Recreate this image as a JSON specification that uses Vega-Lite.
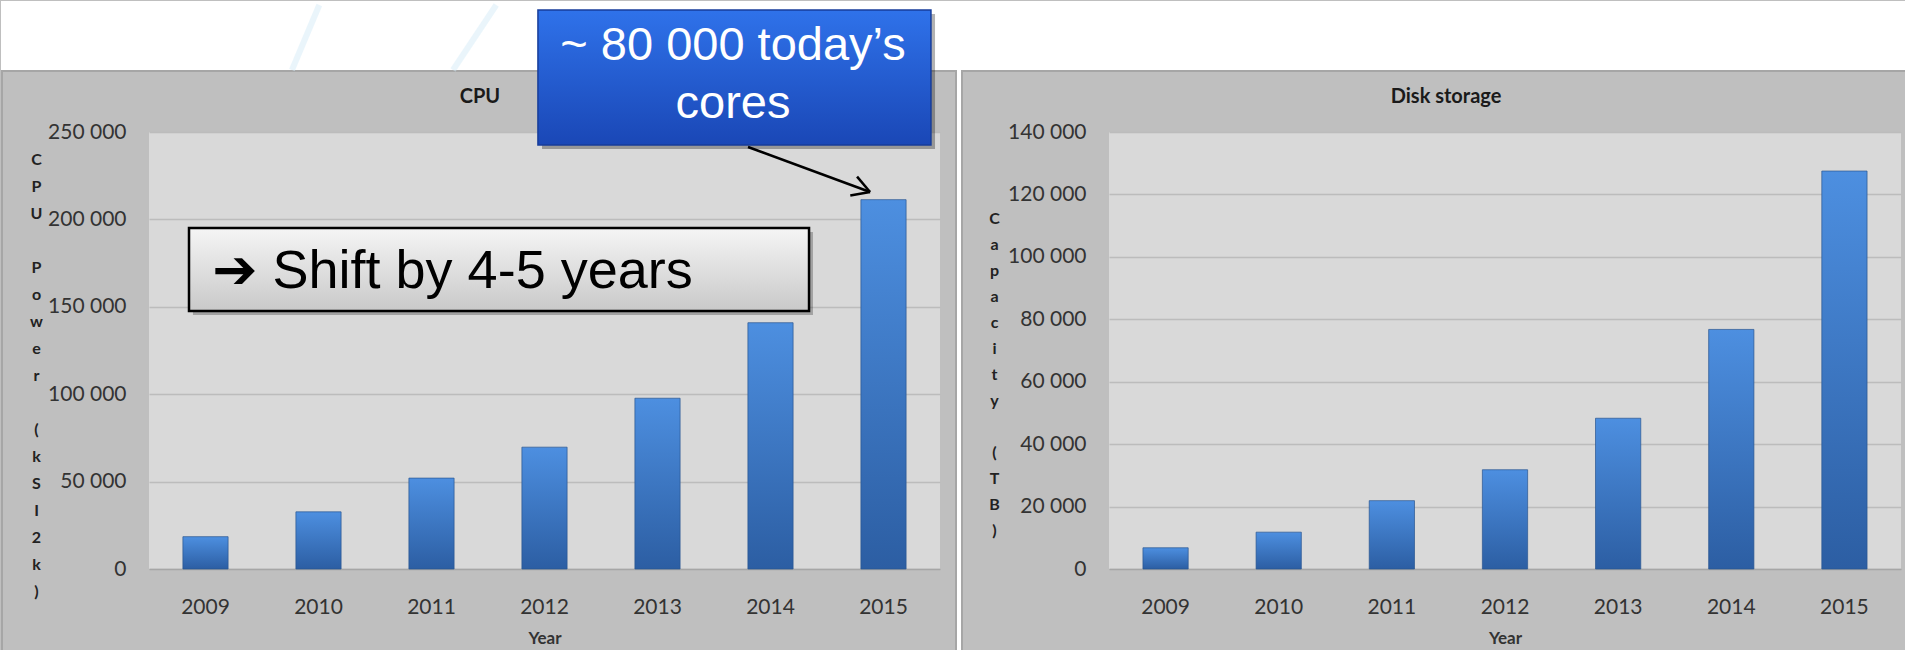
{
  "$schema": "https://vega.github.io/schema/vega-lite/v6.json",
  "background": "#bfbfbf",
  "padding": 0,
  "spacing": 0,
  "config": {
    "view": {"fill": "#d9d9d9", "stroke": null},
    "font": "Lato",
    "axis": {"labelFont": "Lato", "titleFont": "Lato"}
  },
  "datasets": {
    "cpu": [
      {"Year": "2009", "Value": 18500},
      {"Year": "2010", "Value": 32700},
      {"Year": "2011", "Value": 52000},
      {"Year": "2012", "Value": 69700},
      {"Year": "2013", "Value": 97700},
      {"Year": "2014", "Value": 140900},
      {"Year": "2015", "Value": 211300}
    ],
    "disk": [
      {"Year": "2009", "Value": 6800},
      {"Year": "2010", "Value": 11800},
      {"Year": "2011", "Value": 21900},
      {"Year": "2012", "Value": 31800},
      {"Year": "2013", "Value": 48300},
      {"Year": "2014", "Value": 76750},
      {"Year": "2015", "Value": 127500}
    ]
  },
  "hconcat": [
    {
      "width": 791,
      "height": 437,
      "resolve": {"scale": {"x": "independent"}},
      "layer": [
        {
          "data": {"name": "cpu"},
          "mark": {
            "type": "bar",
            "fill": {"gradient": "linear", "x1": 0, "y1": 0, "x2": 0, "y2": 1, "stops": [{"offset": 0, "color": "#4d8fe0"}, {"offset": 1, "color": "#2c5ea3"}]},
            "stroke": "#2a5590", "strokeWidth": 1, "strokeOpacity": 0.7
          },
          "encoding": {
            "x": {
              "field": "Year", "type": "ordinal",
              "scale": {"paddingInner": 0.6, "paddingOuter": 0.3},
              "axis": {
                "title": "Year", "labelAngle": 0, "labelFontSize": 21, "labelColor": "#333333",
                "ticks": false, "tickSize": 0, "labelPadding": 27,
                "domain": true, "domainColor": "#a6a6a6", "domainWidth": 1.5, "grid": false,
                "titleFontSize": 17, "titleFontWeight": "bold", "titleColor": "#333333", "titlePadding": 13
              }
            },
            "y": {
              "field": "Value", "type": "quantitative",
              "scale": {"domain": [0, 250000], "nice": false},
              "axis": {
                "values": [0, 50000, 100000, 150000, 200000, 250000],
                "labelExpr": "replace(format(datum.value, ','), ',', ' ')",
                "labelFontSize": 21, "labelColor": "#333333", "labelPadding": 23,
                "ticks": false, "tickSize": 0, "domain": false,
                "grid": true, "gridColor": "#bcbcbc", "gridWidth": 1.5,
                "title": ["C", "P", "U", "\u2800", "P", "o", "w", "e", "r", "\u2800", "(", "k", "S", "I", "2", "k", ")"],
                "titleAngle": 0, "titleAlign": "center", "titleBaseline": "middle",
                "titleLineHeight": 27, "titleFontSize": 16, "titleFontWeight": "bold", "titleColor": "#222222",
                "titleX": -113, "titleY": 27
              }
            }
          }
        },
        {
          "data": {"values": [{}]},
          "mark": {"type": "rect", "fill": "#ffffff"},
          "encoding": {
            "x": {"datum": -1.3097, "type": "quantitative", "scale": {"domain": [0, 7], "nice": false, "zero": false}, "axis": null},
            "x2": {"datum": 7.1858},
            "y": {"datum": 285469, "type": "quantitative", "scale": {"domain": [0, 250000], "nice": false}},
            "y2": {"datum": 324943}
          }
        },
        {
          "data": {"values": [{}]},
          "mark": {"type": "rect", "fill": "#ffffff"},
          "encoding": {
            "x": {"datum": 7.1504, "type": "quantitative", "scale": {"domain": [0, 7], "nice": false, "zero": false}, "axis": null},
            "x2": {"datum": 7.1858},
            "y": {"datum": 324943, "type": "quantitative", "scale": {"domain": [0, 250000], "nice": false}},
            "y2": {"datum": -52632}
          }
        },
        {
          "data": {"values": [{}]},
          "mark": {"type": "rect", "filled": false, "stroke": "#a6a6a6", "strokeWidth": 2},
          "encoding": {
            "x": {"datum": -1.3009, "type": "quantitative", "scale": {"domain": [0, 7], "nice": false, "zero": false}, "axis": null},
            "x2": {"datum": 7.1416},
            "y": {"datum": 284897, "type": "quantitative", "scale": {"domain": [0, 250000], "nice": false}},
            "y2": {"datum": -52632}
          }
        },
        {
          "data": {"values": [{}]},
          "mark": {"type": "rule", "stroke": "#d6ecf7", "strokeWidth": 6, "opacity": 0.5},
          "encoding": {
            "x": {"datum": 1.265, "type": "quantitative", "scale": {"domain": [0, 7], "nice": false, "zero": false}, "axis": null},
            "x2": {"datum": 1.507},
            "y": {"datum": 285469, "type": "quantitative", "scale": {"domain": [0, 250000], "nice": false}},
            "y2": {"datum": 322654}
          }
        },
        {
          "data": {"values": [{}]},
          "mark": {"type": "rule", "stroke": "#d6ecf7", "strokeWidth": 6, "opacity": 0.5},
          "encoding": {
            "x": {"datum": 2.690, "type": "quantitative", "scale": {"domain": [0, 7], "nice": false, "zero": false}, "axis": null},
            "x2": {"datum": 3.073},
            "y": {"datum": 285469, "type": "quantitative", "scale": {"domain": [0, 250000], "nice": false}},
            "y2": {"datum": 322654}
          }
        },
        {
          "data": {"values": [{}]},
          "mark": {"type": "text", "text": "CPU", "font": "Lato", "fontSize": 20, "fontWeight": "bold", "color": "#1a1a1a", "align": "center", "baseline": "middle"},
          "encoding": {
            "x": {"datum": 2.929, "type": "quantitative", "scale": {"domain": [0, 7], "nice": false, "zero": false}, "axis": null},
            "y": {"datum": 270023, "type": "quantitative", "scale": {"domain": [0, 250000], "nice": false}}
          }
        },
        {
          "data": {"values": [{}]},
          "mark": {"type": "rect", "fill": "#000000", "opacity": 0.25},
          "encoding": {
            "x": {"datum": 0.389, "type": "quantitative", "scale": {"domain": [0, 7], "nice": false, "zero": false}, "axis": null},
            "x2": {"datum": 5.876},
            "y": {"datum": 192792, "type": "quantitative", "scale": {"domain": [0, 250000], "nice": false}},
            "y2": {"datum": 145310}
          }
        },
        {
          "data": {"values": [{}]},
          "mark": {
            "type": "rect",
            "fill": {"gradient": "linear", "x1": 0, "y1": 0, "x2": 0, "y2": 1, "stops": [{"offset": 0, "color": "#f5f5f5"}, {"offset": 1, "color": "#c9c9c9"}]},
            "stroke": "#000000", "strokeWidth": 2.5
          },
          "encoding": {
            "x": {"datum": 0.354, "type": "quantitative", "scale": {"domain": [0, 7], "nice": false, "zero": false}, "axis": null},
            "x2": {"datum": 5.841},
            "y": {"datum": 195080, "type": "quantitative", "scale": {"domain": [0, 250000], "nice": false}},
            "y2": {"datum": 147599}
          }
        },
        {
          "data": {"values": [{}]},
          "mark": {"type": "text", "text": "➔ Shift by 4-5 years", "font": "Liberation Sans, DejaVu Sans", "fontSize": 54, "color": "#000000", "align": "left", "baseline": "middle"},
          "encoding": {
            "x": {"datum": 0.56, "type": "quantitative", "scale": {"domain": [0, 7], "nice": false, "zero": false}, "axis": null},
            "y": {"datum": 169909, "type": "quantitative", "scale": {"domain": [0, 250000], "nice": false}}
          }
        },
        {
          "data": {"values": [{}]},
          "mark": {"type": "rect", "fill": "#000000", "opacity": 0.3},
          "encoding": {
            "x": {"datum": 3.478, "type": "quantitative", "scale": {"domain": [0, 7], "nice": false, "zero": false}, "axis": null},
            "x2": {"datum": 6.956},
            "y": {"datum": 317505, "type": "quantitative", "scale": {"domain": [0, 250000], "nice": false}},
            "y2": {"datum": 240275}
          }
        },
        {
          "data": {"values": [{}]},
          "mark": {
            "type": "rect",
            "fill": {"gradient": "linear", "x1": 0, "y1": 0, "x2": 0, "y2": 1, "stops": [{"offset": 0, "color": "#2f72ea"}, {"offset": 1, "color": "#1a47b6"}]},
            "stroke": "#173d9a", "strokeWidth": 1.5
          },
          "encoding": {
            "x": {"datum": 3.442, "type": "quantitative", "scale": {"domain": [0, 7], "nice": false, "zero": false}, "axis": null},
            "x2": {"datum": 6.920},
            "y": {"datum": 319794, "type": "quantitative", "scale": {"domain": [0, 250000], "nice": false}},
            "y2": {"datum": 242563}
          }
        },
        {
          "data": {"values": [{}]},
          "mark": {"type": "text", "text": "~ 80 000 today’s\ncores", "lineBreak": "\n", "lineHeight": 58, "font": "Liberation Sans, DejaVu Sans", "fontSize": 47, "color": "#ffffff", "align": "center", "baseline": "middle"},
          "encoding": {
            "x": {"datum": 5.168, "type": "quantitative", "scale": {"domain": [0, 7], "nice": false, "zero": false}, "axis": null},
            "y": {"datum": 299200, "type": "quantitative", "scale": {"domain": [0, 250000], "nice": false}}
          }
        },
        {
          "data": {"values": [{}]},
          "mark": {"type": "rule", "stroke": "#000000", "strokeWidth": 2.5},
          "encoding": {
            "x": {"datum": 5.301, "type": "quantitative", "scale": {"domain": [0, 7], "nice": false, "zero": false}, "axis": null},
            "x2": {"datum": 6.381},
            "y": {"datum": 241419, "type": "quantitative", "scale": {"domain": [0, 250000], "nice": false}},
            "y2": {"datum": 215675}
          }
        },
        {
          "data": {"values": [{}]},
          "mark": {"type": "rule", "stroke": "#000000", "strokeWidth": 2.5},
          "encoding": {
            "x": {"datum": 6.266, "type": "quantitative", "scale": {"domain": [0, 7], "nice": false, "zero": false}, "axis": null},
            "x2": {"datum": 6.381},
            "y": {"datum": 224485, "type": "quantitative", "scale": {"domain": [0, 250000], "nice": false}},
            "y2": {"datum": 215675}
          }
        },
        {
          "data": {"values": [{}]},
          "mark": {"type": "rule", "stroke": "#000000", "strokeWidth": 2.5},
          "encoding": {
            "x": {"datum": 6.206, "type": "quantitative", "scale": {"domain": [0, 7], "nice": false, "zero": false}, "axis": null},
            "x2": {"datum": 6.381},
            "y": {"datum": 213730, "type": "quantitative", "scale": {"domain": [0, 250000], "nice": false}},
            "y2": {"datum": 215675}
          }
        }
      ]
    },
    {
      "width": 792,
      "height": 437,
      "resolve": {"scale": {"x": "independent"}},
      "layer": [
        {
          "data": {"name": "disk"},
          "mark": {
            "type": "bar",
            "fill": {"gradient": "linear", "x1": 0, "y1": 0, "x2": 0, "y2": 1, "stops": [{"offset": 0, "color": "#4d8fe0"}, {"offset": 1, "color": "#2c5ea3"}]},
            "stroke": "#2a5590", "strokeWidth": 1, "strokeOpacity": 0.7
          },
          "encoding": {
            "x": {
              "field": "Year", "type": "ordinal",
              "scale": {"paddingInner": 0.6, "paddingOuter": 0.3},
              "axis": {
                "title": "Year", "labelAngle": 0, "labelFontSize": 21, "labelColor": "#333333",
                "ticks": false, "tickSize": 0, "labelPadding": 27,
                "domain": true, "domainColor": "#a6a6a6", "domainWidth": 1.5, "grid": false,
                "titleFontSize": 17, "titleFontWeight": "bold", "titleColor": "#333333", "titlePadding": 13
              }
            },
            "y": {
              "field": "Value", "type": "quantitative",
              "scale": {"domain": [0, 140000], "nice": false},
              "axis": {
                "values": [0, 20000, 40000, 60000, 80000, 100000, 120000, 140000],
                "labelExpr": "replace(format(datum.value, ','), ',', ' ')",
                "labelFontSize": 21, "labelColor": "#333333", "labelPadding": 23,
                "ticks": false, "tickSize": 0, "domain": false,
                "grid": true, "gridColor": "#bcbcbc", "gridWidth": 1.5,
                "title": ["C", "a", "p", "a", "c", "i", "t", "y", "\u2800", "(", "T", "B", ")"],
                "titleAngle": 0, "titleAlign": "center", "titleBaseline": "middle",
                "titleLineHeight": 26, "titleFontSize": 16, "titleFontWeight": "bold", "titleColor": "#222222",
                "titleX": -115, "titleY": 86
              }
            }
          }
        },
        {
          "data": {"values": [{}]},
          "mark": {"type": "rect", "fill": "#ffffff"},
          "encoding": {
            "x": {"datum": -1.30808, "type": "quantitative", "scale": {"domain": [0, 7], "nice": false, "zero": false}, "axis": null},
            "x2": {"datum": 7.1326},
            "y": {"datum": 159863, "type": "quantitative", "scale": {"domain": [0, 140000], "nice": false}},
            "y2": {"datum": 181968}
          }
        },
        {
          "data": {"values": [{}]},
          "mark": {"type": "rect", "filled": false, "stroke": "#a6a6a6", "strokeWidth": 2},
          "encoding": {
            "x": {"datum": -1.2992, "type": "quantitative", "scale": {"domain": [0, 7], "nice": false, "zero": false}, "axis": null},
            "x2": {"datum": 7.1767},
            "y": {"datum": 159542, "type": "quantitative", "scale": {"domain": [0, 140000], "nice": false}},
            "y2": {"datum": -29474}
          }
        },
        {
          "data": {"values": [{}]},
          "mark": {"type": "text", "text": "Disk storage", "font": "Lato", "fontSize": 20, "fontWeight": "bold", "color": "#1a1a1a", "align": "center", "baseline": "middle"},
          "encoding": {
            "x": {"datum": 2.979, "type": "quantitative", "scale": {"domain": [0, 7], "nice": false, "zero": false}, "axis": null},
            "y": {"datum": 151213, "type": "quantitative", "scale": {"domain": [0, 140000], "nice": false}}
          }
        }
      ]
    }
  ]
}
